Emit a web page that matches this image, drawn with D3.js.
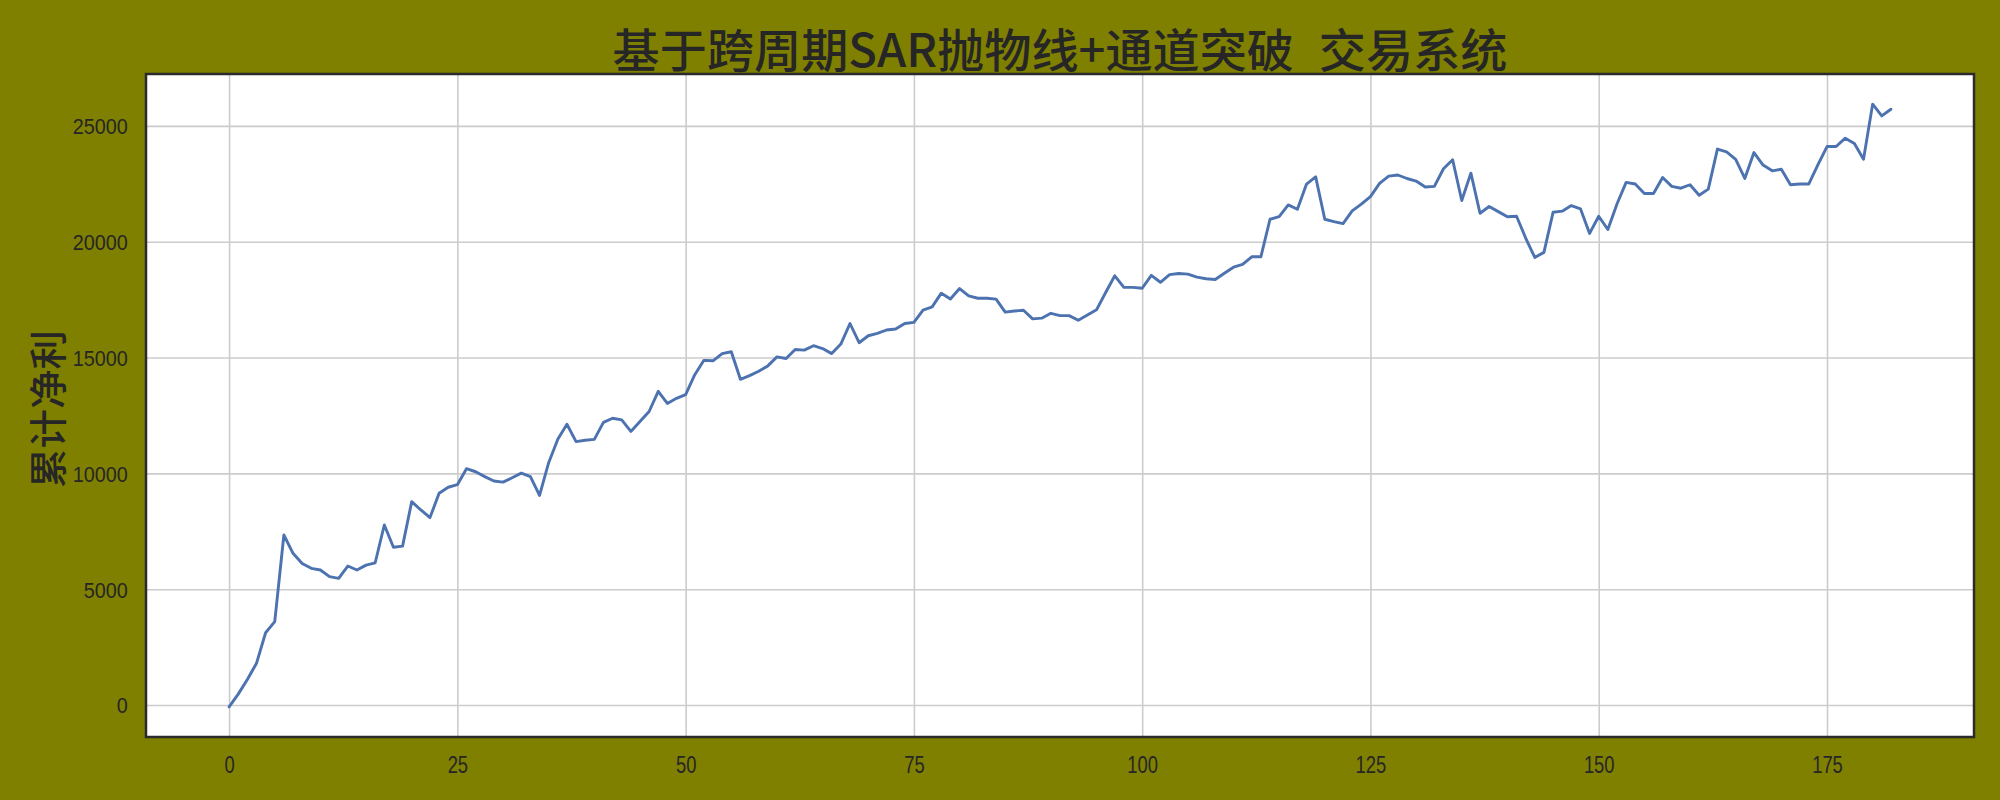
<!DOCTYPE html>
<html><head><meta charset="utf-8">
<script src="https://cdn.jsdelivr.net/npm/d3@7"></script>
<style>html,body{margin:0;padding:0;background:#808000;} svg{display:block}</style>
</head><body>
<svg id="chart" width="2000" height="800"></svg>
<script>
const titleText = "基于跨周期SAR抛物线+通道突破 交易系统";
const yLabelText = "累计净利";
const xTicks = [0, 25, 50, 75, 100, 125, 150, 175];
const yTicks = [0, 5000, 10000, 15000, 20000, 25000];
const netProfit = [
  -80, 470, 1100, 1800, 3120, 3600, 7340, 6550, 6110, 5900,
  5830, 5540, 5470, 6000, 5830, 6040, 6140, 7770, 6810, 6860,
  8780, 8420, 8090, 9140, 9400, 9510, 10200, 10070, 9860, 9670,
  9620, 9810, 10010, 9860, 9050, 10460, 11470, 12120, 11370, 11430,
  11470, 12200, 12380, 12310, 11810, 12240, 12670, 13540, 13020, 13240,
  13400, 14260, 14880, 14860, 15170, 15250, 14060, 14220, 14410, 14640,
  15030, 14960, 15350, 15320, 15510, 15390, 15170, 15580, 16470, 15640,
  15940, 16040, 16190, 16230, 16470, 16520, 17050, 17190, 17780, 17530,
  17980, 17660, 17560, 17560, 17520, 16960, 17010, 17040, 16670, 16700,
  16910, 16810, 16810, 16610, 16840, 17060, 17810, 18530, 18030, 18030,
  17990, 18550, 18250, 18580, 18630, 18600, 18470, 18400, 18370, 18640,
  18900, 19020, 19350, 19350, 20970, 21080, 21590, 21400, 22490, 22800,
  20970, 20870, 20780, 21330, 21620, 21950, 22520, 22830, 22880, 22730,
  22620, 22360, 22390, 23150, 23540, 21780, 22960, 21230, 21520, 21300,
  21080, 21100, 20160, 19320, 19540, 21270, 21320, 21560, 21420, 20360,
  21100, 20530, 21630, 22560, 22490, 22080, 22080, 22770, 22390, 22310,
  22460, 22010, 22270, 24000, 23880, 23560, 22730, 23850, 23310, 23060,
  23130, 22460, 22490, 22490, 23320, 24110, 24110, 24470, 24240, 23560,
  25940, 25430, 25720
];

const W = 2000, H = 800;
const plot = {left: 146, right: 1974, top: 74, bottom: 737};
const svg = d3.select("#chart");
const textColor = "#262626";

svg.append("rect").attr("x", 0).attr("y", 0).attr("width", W).attr("height", H).attr("fill", "#808000");
svg.append("rect").attr("x", plot.left).attr("y", plot.top)
  .attr("width", plot.right - plot.left).attr("height", plot.bottom - plot.top).attr("fill", "#ffffff");

const n = netProfit.length;
const xPad = 0.05 * (n - 1);
const x = d3.scaleLinear().domain([-xPad, n - 1 + xPad]).range([plot.left, plot.right]);
const yMin = d3.min(netProfit), yMax = d3.max(netProfit);
const yPad = 0.05 * (yMax - yMin);
const y = d3.scaleLinear().domain([yMin - yPad, yMax + yPad]).range([plot.bottom, plot.top]);

const xAxis = svg.append("g").attr("transform", `translate(0,${plot.bottom})`)
  .call(d3.axisBottom(x).tickValues(xTicks).tickSize(-(plot.bottom - plot.top)).tickPadding(0).tickFormat(d3.format("d")));
xAxis.select(".domain").remove();
xAxis.selectAll(".tick line").attr("stroke", "#cccccc").attr("stroke-width", 1.6);
xAxis.selectAll(".tick text")
  .attr("fill", textColor).attr("font-family", "'Liberation Sans', Arial, sans-serif").attr("font-size", 23)
  .attr("y", 36).attr("dy", 0).attr("transform", "scale(0.8,1)");

const yAxis = svg.append("g").attr("transform", `translate(${plot.left},0)`)
  .call(d3.axisLeft(y).tickValues(yTicks).tickSize(-(plot.right - plot.left)).tickPadding(0).tickFormat(d3.format("d")));
yAxis.select(".domain").remove();
yAxis.selectAll(".tick line").attr("stroke", "#cccccc").attr("stroke-width", 1.6);
yAxis.selectAll(".tick text")
  .attr("fill", textColor).attr("font-family", "'Liberation Sans', Arial, sans-serif").attr("font-size", 22)
  .attr("x", -18.3 / 0.9).attr("dy", "0.36em").attr("transform", "scale(0.9,1)");

const line = d3.line().x((d, i) => x(i)).y(d => y(d));
svg.append("path").datum(netProfit).attr("d", line)
  .attr("fill", "none").attr("stroke", "#4c72b0").attr("stroke-width", 2.9)
  .attr("stroke-linejoin", "round").attr("stroke-linecap", "round");

svg.append("rect").attr("x", plot.left).attr("y", plot.top)
  .attr("width", plot.right - plot.left).attr("height", plot.bottom - plot.top)
  .attr("fill", "none").attr("stroke", "#2b2b2b").attr("stroke-width", 2.5);

const cx = (plot.left + plot.right) / 2;
const title = svg.append("text")
  .attr("font-family", "'Noto Sans CJK SC', sans-serif").attr("font-size", 46).attr("font-weight", 500)
  .attr("fill", textColor).attr("text-anchor", "middle")
  .attr("word-spacing", 14).style("white-space", "pre")
  .text(titleText);
const tw = title.node().getComputedTextLength();
title.attr("transform", `translate(${cx},67) scale(${895 / tw},1)`);

const yl = svg.append("text")
  .attr("font-family", "'Noto Sans CJK SC', sans-serif").attr("font-size", 38).attr("font-weight", 500)
  .attr("fill", textColor).attr("text-anchor", "middle")
  .text(yLabelText);
const yw = yl.node().getComputedTextLength();
yl.attr("transform", `translate(62,409) rotate(-90) scale(${158 / yw},1)`);
</script>
</body></html>
